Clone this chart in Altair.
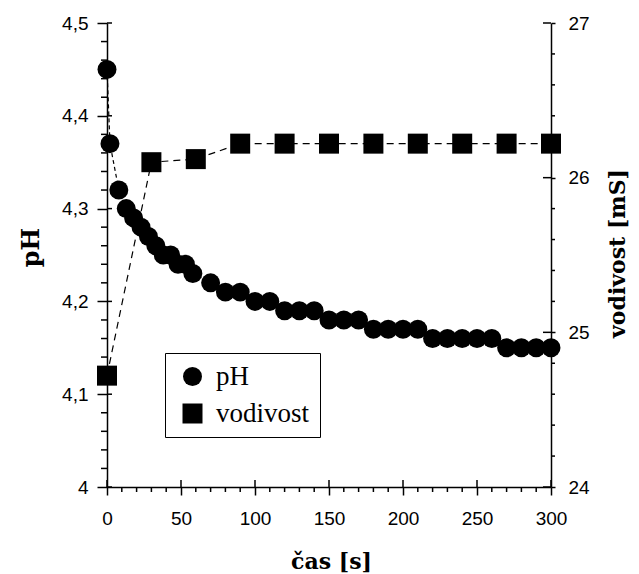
import altair as alt
import pandas as pd

# ---- data ----
t_ph = [0, 2, 8, 13, 18, 23, 28, 33, 38, 43, 48, 53, 58, 70, 80, 90, 100, 110,
        120, 130, 140, 150, 160, 170, 180, 190, 200, 210, 220, 230, 240, 250,
        260, 270, 280, 290, 300]
ph = [4.45, 4.37, 4.32, 4.30, 4.29, 4.28, 4.27, 4.26, 4.25, 4.25, 4.24, 4.24,
      4.23, 4.22, 4.21, 4.21, 4.20, 4.20, 4.19, 4.19, 4.19, 4.18, 4.18, 4.18,
      4.17, 4.17, 4.17, 4.17, 4.16, 4.16, 4.16, 4.16, 4.16, 4.15, 4.15, 4.15,
      4.15]
t_cond = [0, 30, 60, 90, 120, 150, 180, 210, 240, 270, 300]
cond = [24.72, 26.10, 26.12, 26.22, 26.22, 26.22, 26.22, 26.22, 26.22, 26.22, 26.22]
series = ["pH", "vodivost"]

# axis tick values
x_major = [0, 50, 100, 150, 200, 250, 300]
x_minor = [10, 20, 30, 40, 60, 70, 80, 90, 110, 120, 130, 140, 160, 170, 180,
           190, 210, 220, 230, 240, 260, 270, 280, 290]
ph_major = [4.0, 4.1, 4.2, 4.3, 4.4, 4.5]
ph_minor = [4.02, 4.04, 4.06, 4.08, 4.12, 4.14, 4.16, 4.18, 4.22, 4.24, 4.26,
            4.28, 4.32, 4.34, 4.36, 4.38, 4.42, 4.44, 4.46, 4.48]
cond_major = [24, 25, 26, 27]
cond_minor = [24.2, 24.4, 24.6, 24.8, 25.2, 25.4, 25.6, 25.8, 26.2, 26.4,
              26.6, 26.8]

W, H = 444, 464
LBL = "Liberation Sans"
TTL = "DejaVu Serif"
LEGF = "Liberation Serif"

df_ph = pd.DataFrame({"t": t_ph, "v": ph, "s": series[0]})
df_cond = pd.DataFrame({"t": t_cond, "v": cond, "s": series[1]})

comma = "replace(format(datum.value, '~g'), '.', ',')"

x_scale = alt.Scale(domain=[0, 300], nice=False, zero=False)
ph_scale = alt.Scale(domain=[4.0, 4.5], nice=False, zero=False)
cond_scale = alt.Scale(domain=[24, 27], nice=False, zero=False)

x_axis = alt.Axis(title="čas [s]", values=x_major, tickSize=8, labelPadding=14,
                  titleX=224, titleY=81, titleAlign="center",
                  titleBaseline="alphabetic", labelFlush=False,
                  titleFontSize=22)
ph_axis = alt.Axis(title="pH", orient="left", values=ph_major, tickSize=10,
                   labelPadding=9, labelExpr=comma,
                   titleX=-69, titleY=224, titleAngle=270,
                   titleAlign="center", titleBaseline="alphabetic",
                   titleFontSize=24)
cond_axis = alt.Axis(title="vodivost [mS]", orient="right", values=cond_major,
                     tickSize=4, labelPadding=13, labelExpr=comma,
                     titleX=73, titleY=230, titleAngle=270,
                     titleAlign="center", titleBaseline="alphabetic",
                     titleFontSize=22)

leg = alt.Legend(orient="none", legendX=58, legendY=330, title=None,
                 strokeColor="black", fillColor="white", padding=10,
                 labelFont=LEGF, labelFontSize=27, labelColor="black",
                 rowPadding=9, symbolOffset=4, labelOffset=10,
                 symbolFillColor="black", symbolStrokeColor="black",
                 symbolStrokeWidth=0, symbolOpacity=1)
shape_scale = alt.Scale(domain=series, range=["circle", "square"])
size_scale = alt.Scale(domain=series, range=[360, 400])

X = alt.X("t:Q", scale=x_scale, axis=x_axis)

ph_line = alt.Chart(df_ph).mark_line(color="black", strokeWidth=1.2,
                                     strokeDash=[4, 3]).encode(
    x=X, y=alt.Y("v:Q", scale=ph_scale, axis=ph_axis))
ph_pts = alt.Chart(df_ph).mark_point(filled=True, color="black", opacity=1).encode(
    x=X, y=alt.Y("v:Q", scale=ph_scale, axis=ph_axis),
    shape=alt.Shape("s:N", scale=shape_scale, legend=leg),
    size=alt.Size("s:N", scale=size_scale, legend=leg))

def rule(data, **enc):
    return alt.Chart(pd.DataFrame({"v": data})).mark_rule(
        color="black", strokeWidth=1.5).encode(**enc)

XV = alt.X("v:Q", scale=x_scale, axis=x_axis)
PV = alt.Y("v:Q", scale=ph_scale, axis=ph_axis)
CV = alt.Y("v:Q", scale=cond_scale, axis=cond_axis)

x_min_r = rule(x_minor, x=XV, y=alt.value(H), y2=alt.value(H + 5))
x_in_r = rule(x_major, x=XV, y=alt.value(H - 7), y2=alt.value(H))
ph_min_r = rule(ph_minor, y=PV, x=alt.value(-6), x2=alt.value(0))
ph_in_r = rule(ph_major, y=PV, x=alt.value(0), x2=alt.value(5))

cond_line = alt.Chart(df_cond).mark_line(color="black", strokeWidth=1.2,
                                         strokeDash=[7, 5]).encode(
    x=X, y=alt.Y("v:Q", scale=cond_scale, axis=cond_axis))
cond_pts = alt.Chart(df_cond).mark_point(filled=True, color="black", opacity=1).encode(
    x=X, y=alt.Y("v:Q", scale=cond_scale, axis=cond_axis),
    shape=alt.Shape("s:N", scale=shape_scale, legend=leg),
    size=alt.Size("s:N", scale=size_scale, legend=leg))
c_min_r = rule(cond_minor, y=CV, x=alt.value(W), x2=alt.value(W + 4))
c_in_r = rule(cond_major, y=CV, x=alt.value(W - 8), x2=alt.value(W))

left = alt.layer(ph_line, ph_pts, x_min_r, x_in_r, ph_min_r, ph_in_r)
right = alt.layer(cond_line, cond_pts, c_min_r, c_in_r)

chart = alt.layer(left, right).resolve_scale(y="independent").properties(
    width=W, height=H,
    autosize=alt.AutoSizeParams(type="none"),
    padding={"left": 99, "top": 15, "right": 80, "bottom": 87},
    background="white",
).configure_view(stroke=None).configure_axis(
    grid=False, domainColor="black", domainWidth=1.5, tickColor="black",
    tickWidth=1.5, labelColor="black", labelFont=LBL, labelFontSize=19,
    titleFont=TTL, titleFontWeight="bold", titleColor="black",
    labelOverlap=False,
)

chart.save("out.html", embed_options={"renderer": "svg", "actions": False})
